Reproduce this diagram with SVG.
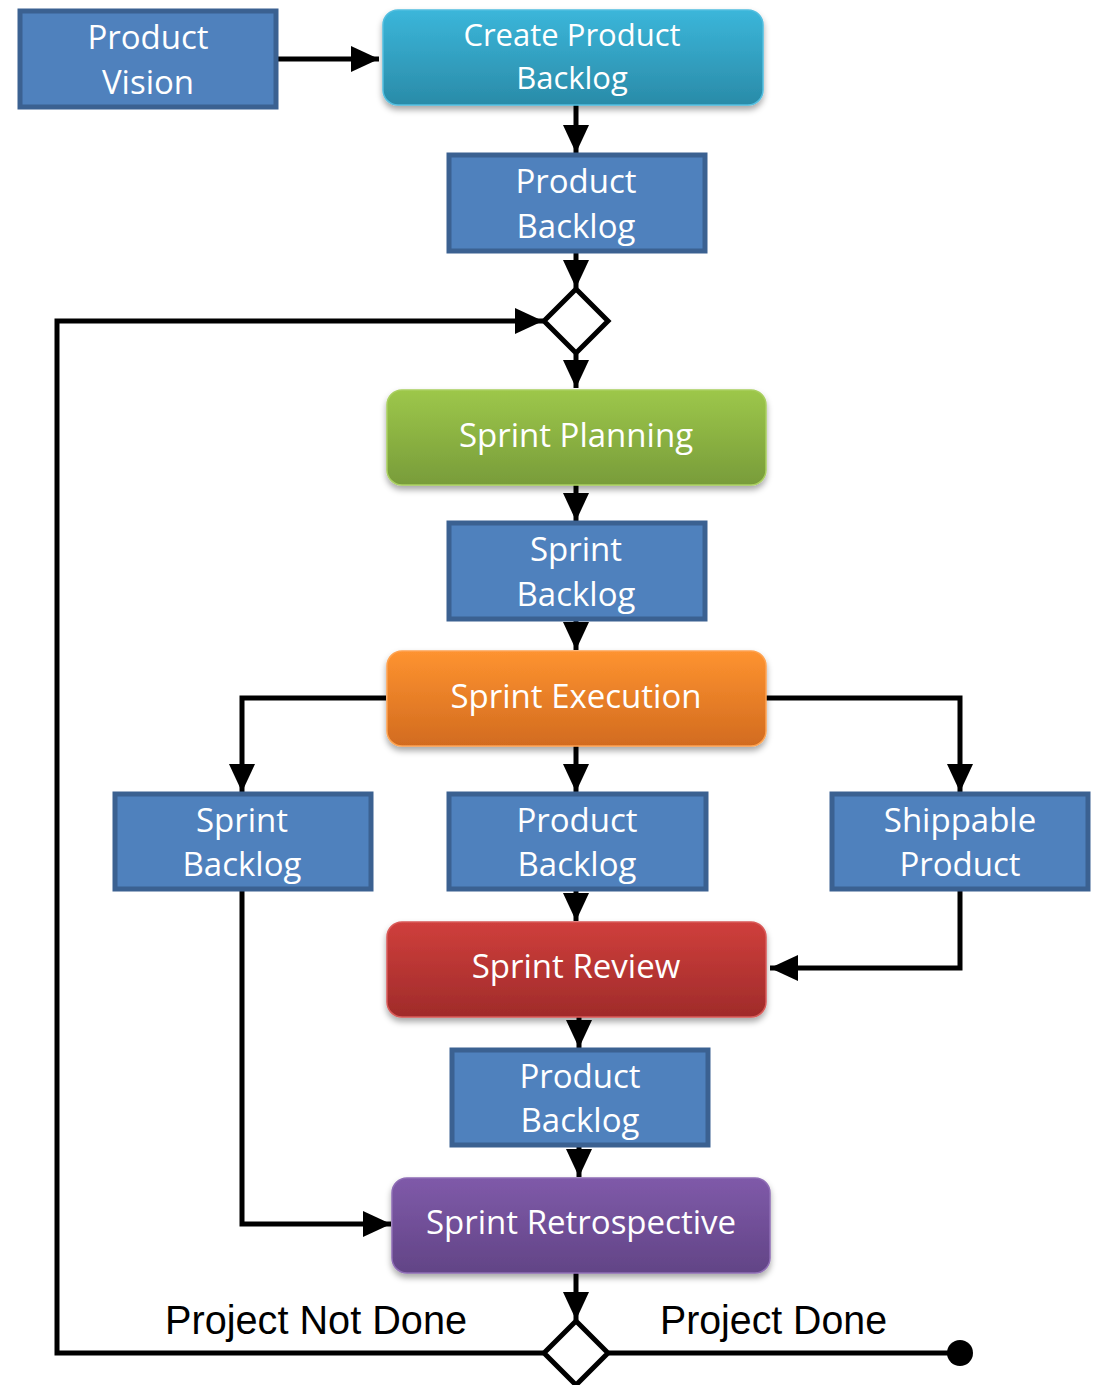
<svg xmlns="http://www.w3.org/2000/svg" width="1096" height="1385" viewBox="0 0 1096 1385">
<defs>
<style>
.box{fill:#4f81bd;stroke:#3b6191;stroke-width:5}
.t{font-family:"Open Sans","Liberation Sans",sans-serif;font-size:33px;fill:#ffffff;text-anchor:middle}
.lbl{font-family:"Liberation Sans","Open Sans",sans-serif;font-size:40px;fill:#000000}
.ln{fill:none;stroke:#000000;stroke-width:5}
.ar{marker-end:url(#ah)}
.dia{fill:#ffffff;stroke:#000000;stroke-width:5}
</style>
<marker id="ah" markerUnits="userSpaceOnUse" markerWidth="30" markerHeight="28" refX="28" refY="13" orient="auto">
<path d="M0,0 L28,13 L0,26 Z" fill="#000000"/>
</marker>
<filter id="sh" x="-10%" y="-20%" width="120%" height="150%">
<feDropShadow dx="0" dy="4" stdDeviation="3" flood-color="#000000" flood-opacity="0.35"/>
</filter>
<linearGradient id="gTeal" x1="0" y1="0" x2="0" y2="1"><stop offset="0" stop-color="#3bb6da"/><stop offset="1" stop-color="#2a8ba8"/></linearGradient>
<linearGradient id="gGreen" x1="0" y1="0" x2="0" y2="1"><stop offset="0" stop-color="#9dc74a"/><stop offset="1" stop-color="#789c3a"/></linearGradient>
<linearGradient id="gOrange" x1="0" y1="0" x2="0" y2="1"><stop offset="0" stop-color="#fe9330"/><stop offset="1" stop-color="#d26b1f"/></linearGradient>
<linearGradient id="gRed" x1="0" y1="0" x2="0" y2="1"><stop offset="0" stop-color="#cf3f3c"/><stop offset="1" stop-color="#a02b2a"/></linearGradient>
<linearGradient id="gPurple" x1="0" y1="0" x2="0" y2="1"><stop offset="0" stop-color="#7f5aa9"/><stop offset="1" stop-color="#624486"/></linearGradient>
</defs>

<g id="connectors">
<line class="ln ar" x1="278" y1="59" x2="379" y2="59"/>
<line class="ln ar" x1="576" y1="95" x2="576" y2="153"/>
<line class="ln ar" x1="576" y1="252" x2="576" y2="288"/>
<polyline class="ln ar" points="543,1353 57,1353 57,321 543,321"/>
<line class="ln ar" x1="576" y1="354" x2="576" y2="388"/>
<line class="ln ar" x1="576" y1="485" x2="576" y2="521"/>
<line class="ln ar" x1="576" y1="620" x2="576" y2="650"/>
<polyline class="ln ar" points="386,698 242,698 242,792"/>
<polyline class="ln ar" points="766,698 960,698 960,792"/>
<line class="ln ar" x1="576" y1="746" x2="576" y2="792"/>
<line class="ln ar" x1="576" y1="890" x2="576" y2="921"/>
<polyline class="ln ar" points="960,890 960,968 770,968"/>
<line class="ln ar" x1="579" y1="1017" x2="579" y2="1048"/>
<line class="ln ar" x1="579" y1="1146" x2="579" y2="1177"/>
<polyline class="ln ar" points="242,890 242,1224 391,1224"/>
<line class="ln ar" x1="576" y1="1273" x2="576" y2="1320"/>
<line class="ln" x1="609" y1="1353" x2="960" y2="1353"/>
<circle cx="960" cy="1353" r="13" fill="#000000"/>
</g>

<g id="product-vision">
<rect class="box" x="20" y="11" width="256" height="96"/>
<text class="t" x="148" y="49">Product</text>
<text class="t" x="148" y="94">Vision</text>
</g>

<g id="create-product-backlog">
<rect x="383" y="10" width="380" height="95" rx="15" fill="url(#gTeal)" stroke="#52bedf" stroke-width="1.5" filter="url(#sh)"/>
<text class="t" x="572" y="46" style="font-size:31px">Create Product</text>
<text class="t" x="572" y="89" style="font-size:31px">Backlog</text>
</g>

<g id="product-backlog-1">
<rect class="box" x="449" y="155" width="256" height="96"/>
<text class="t" x="576" y="193">Product</text>
<text class="t" x="576" y="238">Backlog</text>
</g>

<g id="decision-1">
<polygon class="dia" points="576,289 608,321 576,353 544,321"/>
</g>

<g id="sprint-planning">
<rect x="387" y="390" width="379" height="95" rx="15" fill="url(#gGreen)" stroke="#a9cf60" stroke-width="1.5" filter="url(#sh)"/>
<text class="t" x="576" y="447">Sprint Planning</text>
</g>

<g id="sprint-backlog-1">
<rect class="box" x="449" y="523" width="256" height="96"/>
<text class="t" x="576" y="561">Sprint</text>
<text class="t" x="576" y="606">Backlog</text>
</g>

<g id="sprint-execution">
<rect x="387" y="651" width="379" height="95" rx="15" fill="url(#gOrange)" stroke="#fea351" stroke-width="1.5" filter="url(#sh)"/>
<text class="t" x="576" y="708">Sprint Execution</text>
</g>

<g id="sprint-backlog-2">
<rect class="box" x="115" y="794" width="256" height="95"/>
<text class="t" x="242" y="832">Sprint</text>
<text class="t" x="242" y="876">Backlog</text>
</g>

<g id="product-backlog-2">
<rect class="box" x="449" y="794" width="257" height="95"/>
<text class="t" x="577" y="832">Product</text>
<text class="t" x="577" y="876">Backlog</text>
</g>

<g id="shippable-product">
<rect class="box" x="832" y="794" width="256" height="95"/>
<text class="t" x="960" y="832">Shippable</text>
<text class="t" x="960" y="876">Product</text>
</g>

<g id="sprint-review">
<rect x="387" y="922" width="379" height="95" rx="15" fill="url(#gRed)" stroke="#d95a58" stroke-width="1.5" filter="url(#sh)"/>
<text class="t" x="576" y="978">Sprint Review</text>
</g>

<g id="product-backlog-3">
<rect class="box" x="452" y="1050" width="256" height="95"/>
<text class="t" x="580" y="1088">Product</text>
<text class="t" x="580" y="1132">Backlog</text>
</g>

<g id="sprint-retrospective">
<rect x="392" y="1178" width="378" height="95" rx="15" fill="url(#gPurple)" stroke="#8e6db5" stroke-width="1.5" filter="url(#sh)"/>
<text class="t" x="581" y="1234">Sprint Retrospective</text>
</g>

<g id="decision-2">
<polygon class="dia" points="576,1321 608,1353 576,1385 544,1353"/>
</g>

<g id="labels">
<text class="lbl" x="165" y="1334" textLength="302" lengthAdjust="spacingAndGlyphs">Project Not Done</text>
<text class="lbl" x="660" y="1334" textLength="227" lengthAdjust="spacingAndGlyphs">Project Done</text>
</g>
</svg>
